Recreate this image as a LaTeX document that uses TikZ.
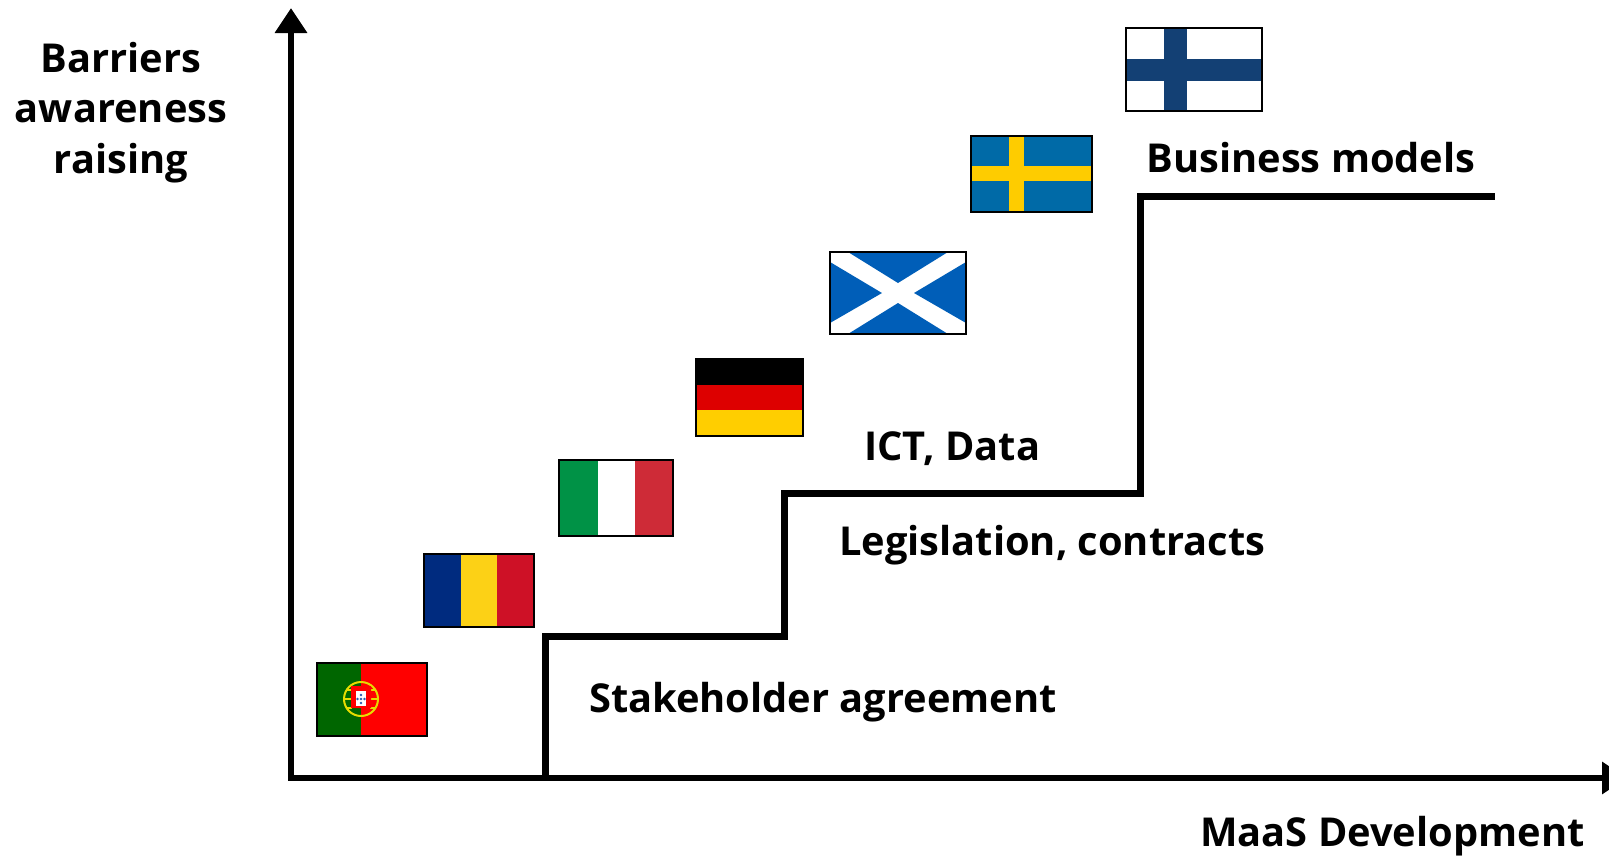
\documentclass[tikz,border=0pt]{standalone}
\usepackage{fontspec}
\setmainfont{Open Sans}
\usetikzlibrary{arrows.meta}
\definecolor{prtgreen}{HTML}{006600}
\definecolor{prtred}{HTML}{FF0000}
\definecolor{prtgold}{HTML}{E6DC00}
\definecolor{prtblue}{HTML}{2A5CB0}
\definecolor{romblue}{HTML}{002B7F}
\definecolor{romyellow}{HTML}{FCD116}
\definecolor{romred}{HTML}{CE1126}
\definecolor{itagreen}{HTML}{009246}
\definecolor{itared}{HTML}{CE2B37}
\definecolor{gerred}{HTML}{DD0000}
\definecolor{geryellow}{HTML}{FFCE00}
\definecolor{scoblue}{HTML}{005EB8}
\definecolor{sweblue}{HTML}{006AA7}
\definecolor{sweyellow}{HTML}{FECC00}
\definecolor{finblue}{HTML}{134074}
\begin{document}
\begin{tikzpicture}[
		x=1pt,
		y=-1pt,
		axisline/.style={
			line width=6.5pt,
			{Triangle[length=25pt,width=31pt]}-{Triangle[length=25pt,width=31pt]},
		},
		stairline/.style={
			line width=7pt,
		},
		flagbox/.style={
			draw,
			line width=1.8pt,
			inner sep=0pt,
			outer sep=0pt,
		},
		steplabel/.style={
			anchor=base west,
			inner sep=0pt,
			font=\fontsize{39.8}{50.5}\selectfont\bfseries,
		},
	]
		\useasboundingbox (0,0) rectangle (1609,855);
		\fill[white] (0,0) rectangle (1609,855);

		\coordinate (ytip) at (291,8);
		\coordinate (orig) at (291,778);
		\coordinate (xtip) at (1627,778);
		\draw[axisline] (ytip) -- (orig) -- (xtip);

		\coordinate (stairA) at (545,778);
		\coordinate (stairB) at (784,636);
		\coordinate (stairC) at (1140,493);
		\coordinate (stairD) at (1495,196);
		\draw[stairline] (stairA) |- (stairB) |- (stairC) |- (stairD);

		\fill[prtgreen] (317,663) rectangle (361,736);
		\fill[prtred] (361,663) rectangle (427,736);
		\draw[prtgold,line width=2pt] (361,699) circle[radius=17];
		\draw[prtgold,line width=1.5pt] (344,699) -- (352,699) (370,699) -- (378,699);
		\draw[prtgold,line width=1.2pt] (347,690) -- (352,690) (370,690) -- (375,690);
		\draw[prtgold,line width=1.2pt] (347,708) -- (352,708) (370,708) -- (375,708);
		\fill[prtred] (351,686) rectangle (371,708) arc[start angle=0,end angle=180,x radius=10,y radius=-5] -- cycle;
		\fill[white] (356,691) rectangle (366,706);
		\foreach \dotx/\doty in {361/695,357.5/699,361/699,364.5/699,361/703} {
			\fill[prtblue] (\dotx,\doty) circle[radius=1.4];
		}
		\node[flagbox,minimum width=109.5pt,minimum height=72.5pt] (portugal) at (372,699.5) {};

		\fill[romblue] (424,554) rectangle (461,627);
		\fill[romyellow] (461,554) rectangle (497,627);
		\fill[romred] (497,554) rectangle (534,627);
		\node[flagbox,minimum width=109.5pt,minimum height=72.5pt] (romania) at (479,590.5) {};

		\fill[itagreen] (559,460) rectangle (598,536);
		\fill[itared] (635,460) rectangle (673,536);
		\node[flagbox,minimum width=113.5pt,minimum height=75.5pt] (italy) at (616,498) {};

		\fill[black] (696,359) rectangle (803,385);
		\fill[gerred] (696,385) rectangle (803,410);
		\fill[geryellow] (696,410) rectangle (803,436);
		\node[flagbox,minimum width=106.5pt,minimum height=76.5pt] (germany) at (749.5,397.5) {};

		\fill[scoblue] (848,252) -- (948,252) -- (898,283) -- cycle;
		\fill[scoblue] (830,262) -- (882,293) -- (830,323) -- cycle;
		\fill[scoblue] (966,262) -- (914,293) -- (966,323) -- cycle;
		\fill[scoblue] (848,334) -- (948,334) -- (898,303) -- cycle;
		\node[flagbox,minimum width=135.5pt,minimum height=81.5pt] (scotland) at (898,293) {};

		\fill[sweblue] (971,136) rectangle (1092,212);
		\fill[sweyellow] (1009,136) rectangle (1024,212);
		\fill[sweyellow] (971,166) rectangle (1092,181);
		\node[flagbox,minimum width=120.5pt,minimum height=75.5pt] (sweden) at (1031.5,174) {};

		\fill[finblue] (1164,28) rectangle (1187,111);
		\fill[finblue] (1126,59) rectangle (1262,81);
		\node[flagbox,minimum width=135.5pt,minimum height=82.5pt] (finland) at (1194,69.5) {};

		\node[steplabel,anchor=base,align=center] (barriers) at (121,173) {Barriers\\awareness\\raising};
		\node[steplabel] (business) at (1146.5,172) {Business models};
		\node[steplabel] (ict) at (864,460) {ICT, Data};
		\node[steplabel] (legislation) at (839,555.5) {Legislation, contracts};
		\node[steplabel] (stakeholder) at (589,712.5) {Stakeholder agreement};
		\node[steplabel] (maas) at (1200,846) {MaaS Development};
	\end{tikzpicture}
\end{document}
